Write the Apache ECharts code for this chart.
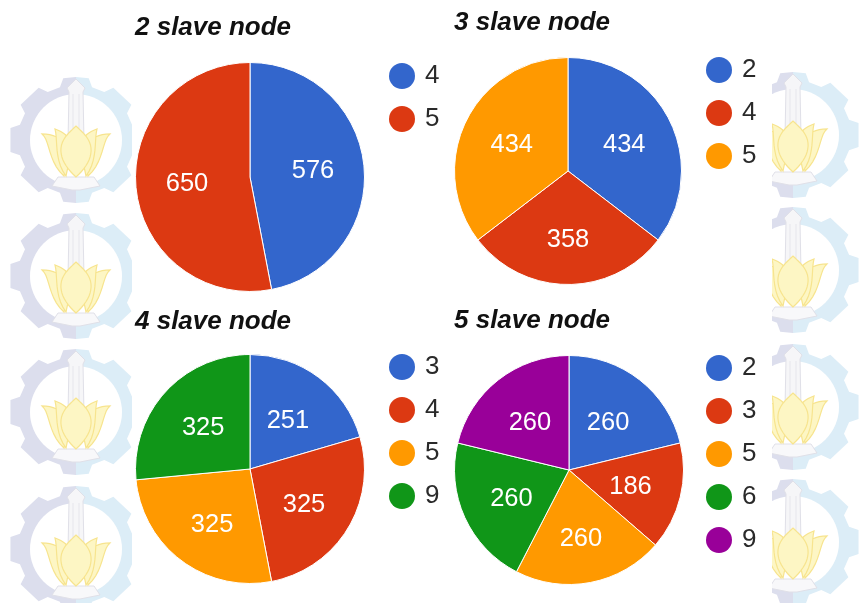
<!DOCTYPE html>
<html>
<head>
<meta charset="utf-8">
<style>html,body{margin:0;padding:0;background:#fff}#chart{width:859px;height:603px}</style>
<script src="https://cdn.jsdelivr.net/npm/echarts@6/dist/echarts.min.js"></script>
</head>
<body>
<div id="chart"></div>
<script>
// Task distribution per reduce node, one pie per cluster size
const titles = ['2 slave node', '3 slave node', '4 slave node', '5 slave node'];
const nodes2 = ['4', '5'];
const values2 = [576, 650];
const nodes3 = ['2', '4', '5'];
const values3 = [434, 358, 434];
const nodes4 = ['3', '4', '5', '9'];
const values4 = [251, 325, 325, 325];
const nodes5 = ['2', '3', '5', '6', '9'];
const values5 = [260, 186, 260, 260, 260];
const palette = ['#3366CC', '#DC3912', '#FF9900', '#109618', '#990099'];

// Panel placement: pie centre and radius, title corner, legend corner
const panels = [
  { nodes: nodes2, values: values2, colors: [0, 1],          c: [250, 177], r: 114.5, t: [135, 15],  l: [389, 63] },
  { nodes: nodes3, values: values3, colors: [0, 1, 2],       c: [568, 171], r: 113.5, t: [454, 10],  l: [706, 57] },
  { nodes: nodes4, values: values4, colors: [0, 1, 2, 3],    c: [250, 469], r: 114.5, t: [135, 309], l: [389, 354] },
  { nodes: nodes5, values: values5, colors: [0, 1, 2, 3, 4], c: [569, 470], r: 114.5, t: [454, 308], l: [706, 355] }
];

// Cubic bezier outline flattened to polygon points
function outline(start, curves) {
  const pts = [start];
  let from = start;
  curves.forEach((c) => {
    for (let s = 1; s <= 10; s++) {
      const t = s / 10, u = 1 - t;
      pts.push([
        u * u * u * from[0] + 3 * u * u * t * c[0][0] + 3 * u * t * t * c[1][0] + t * t * t * c[2][0],
        u * u * u * from[1] + 3 * u * u * t * c[0][1] + 3 * u * t * t * c[1][1] + t * t * t * c[2][1]
      ]);
    }
    from = c[2];
  });
  return pts;
}

// Institution crest used as the page watermark
function crest(cx, cy) {
  const R = 63, root = 55, hole = 46;
  const pt = (deg, r) => {
    const a = deg * Math.PI / 180;
    return [cx + 1.06 * r * Math.cos(a), cy - r * Math.sin(a)];
  };
  const half = (from) => {
    const pts = [pt(from, R), pt(from + 11, R)];
    for (let k = 1; k <= 4; k++) {
      const a = from + k * 45;
      pts.push(pt(a - 29, root), pt(a - 16, root), pt(a - 11, R));
      if (k < 4) pts.push(pt(a + 11, R));
    }
    pts.push(pt(from + 180, R));
    return pts;
  };
  const xy = (dx, dy) => [cx + dx, cy + dy];
  const petal = (start, curves) => ({
    type: 'polygon',
    shape: {
      points: outline(xy(start[0], start[1]), curves.map((c) => c.map((q) => xy(q[0], q[1]))))
    },
    style: { fill: '#fdf6c4', stroke: '#f7e48e', lineWidth: 1.2 }
  });
  const mirror = (list) => list.map((c) => c.map((q) => [-q[0], q[1]]));
  const outerPetal = [[[-28, 22], [-26, 0], [-34, -6]], [[-20, -6], [-12, 0], [-6, 10]]];
  const innerPetal = [[[-22, 20], [-18, 0], [-21, -11]], [[-10, -7], [-6, -2], [-4, 8]]];
  return [
    { type: 'polygon', shape: { points: half(90) }, style: { fill: '#dcdeed' } },
    { type: 'polygon', shape: { points: half(-90) }, style: { fill: '#dcedf7' } },
    { type: 'circle', shape: { cx: cx, cy: cy, r: hole }, style: { fill: '#fff' } },
    // monument shaft and tip
    { type: 'polygon', shape: { points: [[cx - 8, cy + 2], [cx - 7, cy - 48], [cx - 9, cy - 52], [cx, cy - 61], [cx + 9, cy - 52], [cx + 7, cy - 48], [cx + 8, cy + 2]] },
      style: { fill: '#f6f6f8', stroke: '#e0e0e8', lineWidth: 1 } },
    { type: 'line', shape: { x1: cx - 3, y1: cy - 46, x2: cx - 3, y2: cy }, style: { stroke: '#e6e6ec', lineWidth: 1 } },
    { type: 'line', shape: { x1: cx + 3, y1: cy - 46, x2: cx + 3, y2: cy }, style: { stroke: '#e6e6ec', lineWidth: 1 } },
    // feet of the base
    { type: 'polygon', shape: { points: [[cx - 24, cy + 46], [cx - 18, cy + 37], [cx + 18, cy + 37], [cx + 24, cy + 46], [cx + 4, cy + 50], [cx - 4, cy + 50]] },
      style: { fill: '#f8f8fa', stroke: '#e0e0e8', lineWidth: 1 } },
    // lotus petals, outer pair first
    petal([-12, 36], outerPetal),
    petal([12, 36], mirror(outerPetal)),
    petal([-10, 36], innerPetal),
    petal([10, 36], mirror(innerPetal)),
    petal([0, 37], [[[-10, 28], [-16, 18], [-15, 8]], [[-14, -2], [-6, -8], [0, -14]], [[6, -8], [14, -2], [15, 8]], [[16, 18], [10, 28], [0, 37]]])
  ];
}

const leftRows = [140, 276, 412, 549];
const rightRows = [135, 270, 407, 542];
let backdrop = [];
leftRows.forEach((y) => { backdrop = backdrop.concat(crest(76, y)); });
rightRows.forEach((y) => { backdrop = backdrop.concat(crest(793, y)); });
backdrop.push({ type: 'rect', shape: { x: 132, y: 0, width: 640, height: 603 }, style: { fill: '#fff' } });

const fontFamily = '"Liberation Sans", Arial, sans-serif';
const chart = echarts.init(document.getElementById('chart'), null, { renderer: 'canvas' });

chart.setOption({
  animation: false,
  backgroundColor: '#fff',
  graphic: { elements: backdrop.map((e) => Object.assign({ silent: true, z: -10 }, e)) },
  title: panels.map((p, i) => ({
    text: titles[i],
    left: p.t[0],
    top: p.t[1],
    padding: 0,
    textStyle: { fontFamily, fontSize: 26, fontWeight: 'bold', fontStyle: 'italic', color: '#111' }
  })),
  legend: panels.map((p) => ({
    left: p.l[0],
    top: p.l[1],
    orient: 'vertical',
    padding: 0,
    icon: 'circle',
    itemWidth: 26,
    itemHeight: 26,
    itemGap: 17,
    selectedMode: false,
    textStyle: { fontFamily, fontSize: 26, color: '#2a2a2a', padding: [2, 0, 0, 5] },
    data: p.nodes.map((n, j) => ({ name: n, itemStyle: { color: palette[p.colors[j]], borderWidth: 0 } }))
  })),
  series: panels.map((p) => ({
    type: 'pie',
    center: p.c,
    radius: [0, p.r],
    startAngle: 90,
    clockwise: true,
    silent: true,
    avoidLabelOverlap: false,
    itemStyle: { borderColor: '#fff', borderWidth: 1 },
    label: {
      show: true,
      position: 'inner',
      formatter: '{c}',
      color: '#fff',
      fontFamily,
      fontSize: 25.5
    },
    labelLine: { show: false },
    // value labels sit a little further out than the slice midpoint, more so below the centre
    labelLayout: (params) => {
      const lr = params.labelRect;
      const dx = lr.x + lr.width / 2 - p.c[0];
      const dy = lr.y + lr.height / 2 - p.c[1];
      return { dx: dx * 0.05, dy: dy > 0 ? dy * 0.16 : 0 };
    },
    data: p.nodes.map((n, j) => ({
      name: n,
      value: p.values[j],
      itemStyle: { color: palette[p.colors[j]] }
    }))
  }))
});
</script>
</body>
</html>
